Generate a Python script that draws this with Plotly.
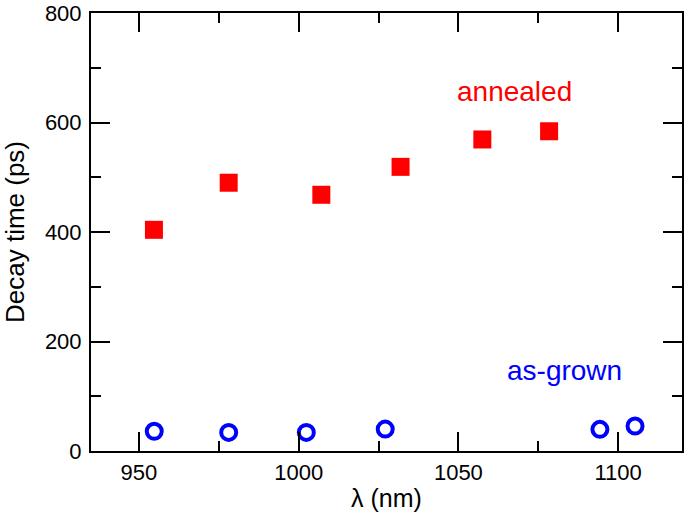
import plotly.graph_objects as go

annealed_x = [954.7, 978.1, 1007.1, 1031.9, 1057.5, 1078.4]
annealed_y = [404, 490, 468, 519, 569, 584]
grown_x = [954.8, 978.1, 1002.4, 1027.1, 1094.3, 1105.3]
grown_y = [36, 34, 34, 40, 39.5, 45.5]

x_ticks = [950, 1000, 1050, 1100]
y_ticks = [0, 200, 400, 600, 800]

FONT = "Liberation Sans, Arial, Helvetica, sans-serif"

fig = go.Figure()
fig.add_trace(go.Scatter(
    x=annealed_x, y=annealed_y, mode="markers",
    marker=dict(symbol="square", size=18, color="#ff0000", line=dict(width=0)),
    showlegend=False))
fig.add_trace(go.Scatter(
    x=grown_x, y=grown_y, mode="markers",
    marker=dict(symbol="circle-open", size=15, color="#0000ff", line=dict(width=4, color="#0000ff")),
    showlegend=False))

fig.add_annotation(x=1067.5, y=657, text="annealed", showarrow=False,
                   font=dict(family=FONT, size=28, color="#ff0000"))
fig.add_annotation(x=1083.1, y=147, text="as-grown", showarrow=False,
                   font=dict(family=FONT, size=28, color="#0000ff"))

axis_common = dict(
    showline=True, linecolor="black", linewidth=2, mirror="allticks",
    ticks="inside", ticklen=19, tickwidth=2, tickcolor="black",
    showgrid=False, zeroline=False, ticklabeloverflow="allow",
    tickfont=dict(family=FONT, size=22, color="black"),
)

fig.update_xaxes(range=[935, 1120], tickvals=x_ticks,
                 ticktext=[str(v) for v in x_ticks],
                 minor=dict(dtick=25, tick0=0, ticks="inside", ticklen=10, tickwidth=2, tickcolor="black"),
                 title=dict(text="λ (nm)", font=dict(family=FONT, size=25, color="black"), standoff=5),
                 ticklabelstandoff=1,
                 **axis_common)
fig.update_yaxes(range=[0, 800], tickvals=y_ticks,
                 ticktext=[str(v) for v in y_ticks],
                 minor=dict(dtick=100, tick0=0, ticks="inside", ticklen=10, tickwidth=2, tickcolor="black"),
                 title=dict(text="Decay time (ps)", font=dict(family=FONT, size=26, color="black"), standoff=17),
                 ticklabelstandoff=3,
                 **axis_common)

fig.update_layout(width=685, height=512, margin=dict(l=91, r=1, t=12, b=61),
                  plot_bgcolor="white", paper_bgcolor="white")

# remove the default 8px page margin so the figure fills the window exactly
fig.write_html("out.html", config={"displayModeBar": False},
               post_script="document.body.style.margin='0';document.body.style.overflow='hidden';")
